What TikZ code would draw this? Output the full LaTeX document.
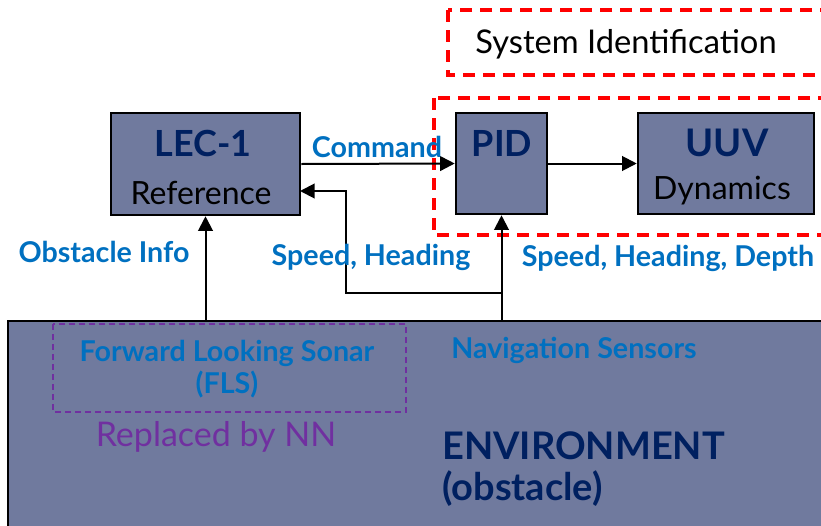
\documentclass[tikz,border=0pt]{standalone}
\usepackage{fontspec}
\setmainfont{Lato}
\setsansfont{Lato}
\usetikzlibrary{arrows.meta,calc}
\definecolor{boxfill}{RGB}{112,122,158}
\definecolor{navy}{RGB}{0,32,96}
\definecolor{lblue}{RGB}{0,112,192}
\definecolor{ppl}{RGB}{112,48,160}
\definecolor{dred}{RGB}{255,0,0}
\tikzset{
  blk/.style={draw=black, line width=1.9pt, fill=boxfill, rectangle, inner sep=0pt},
  arr/.style={line width=1.5pt, -{Triangle[length=11pt,width=11pt]}},
  redbox/.style={draw=dred, line width=2.3pt, dash pattern=on 9pt off 6pt},
  pplbox/.style={draw=ppl, line width=1.1pt, dash pattern=on 4.5pt off 3pt},
  ttl/.style={font=\fontsize{27}{30}\selectfont\bfseries, text=navy, inner sep=0pt},
  sub/.style={font=\fontsize{24}{28}\selectfont, text=black, inner sep=0pt},
  lbl/.style={font=\fontsize{21.5}{24}\selectfont\bfseries, text=lblue, inner sep=0pt},
  envtxt/.style={font=\fontsize{28.5}{32}\selectfont\bfseries, text=navy, inner sep=0pt, anchor=west},
}
\begin{document}
\begin{tikzpicture}[x=0.75pt,y=-0.75pt]
\clip (0,0) rectangle (821,525);
\useasboundingbox (0,0) rectangle (821,525);
% environment
\node[blk, minimum width=616.5pt, minimum height=164.25pt] (env) at (419,430.5) {};
\draw[pplbox] (53,324) rectangle (406,412);
% red dashed boxes
\draw[redbox] (448,10) rectangle (835,75);
\draw[redbox] (434,98) rectangle (835,235);
\node[font=\fontsize{24.5}{28}\selectfont, inner sep=0pt] (sysid) at (626,44) {System Identification};
% blocks
\node[blk, minimum width=141.75pt, minimum height=76.5pt] (lec) at (205.5,164) {};
\node[blk, minimum width=68.25pt, minimum height=75.75pt] (pid) at (501.5,163.5) {};
\node[blk, minimum width=132pt, minimum height=75.75pt] (uuv) at (726,163.5) {};
\node[ttl] (lect) at (203,143) {LEC-1};
\node[sub] (lecs) at (201,193) {Reference};
\node[ttl] (pidt) at (502,143) {PID};
\node[ttl, font=\fontsize{28.5}{30}\selectfont\bfseries] (uuvt) at (727,143) {UUV};
\node[sub] (uuvs) at (722,191) {Dynamics};
% connectors
\draw[arr] (lec.east) -- (pid.west);
\draw[arr] (pid.east) -- (uuv.west);
\draw[arr] (lec.south |- env.north) -- (lec.south);
\draw[arr] (pid.south |- env.north) -- (pid.south);
\coordinate (fbA) at (501.5,293);
\coordinate (fbB) at (346,293);
\coordinate (lecin) at (300,191);
\draw[arr] (fbA) -- (fbB) |- (lecin);
% labels
\node[lbl] (cmd) at (377,147) {Command};
\node[lbl] (obs) at (104,252) {Obstacle Info};
\node[lbl] (sh) at (371,257) {Speed, Heading};
\node[lbl] (shd) at (668,258) {Speed, Heading, Depth};
\node[lbl] (fls1) at (227,353) {Forward Looking Sonar};
\node[lbl] (fls2) at (227,385) {(FLS)};
\node[lbl] (nav) at (574,350) {Navigation Sensors};
\node[font=\fontsize{25.5}{28}\selectfont, text=ppl, inner sep=0pt] (nn) at (216,437) {Replaced by NN};
\node[envtxt] (envt1) at (442,446) {ENVIRONMENT};
\node[envtxt] (envt2) at (442,489) {(obstacle)};
\end{tikzpicture}
\end{document}
